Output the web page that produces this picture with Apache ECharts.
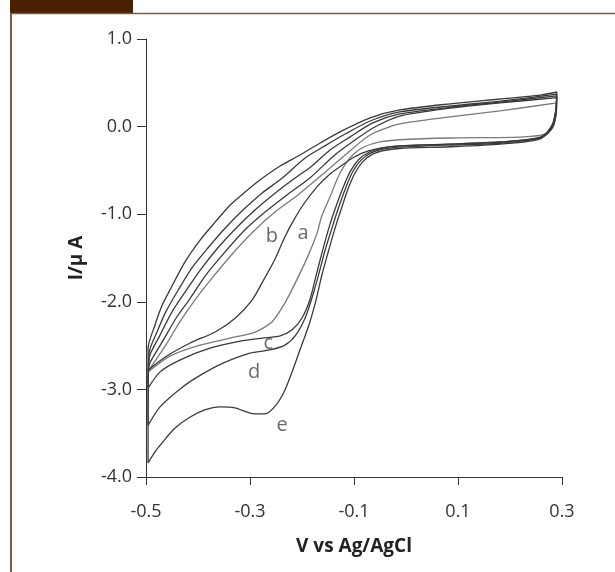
<!DOCTYPE html>
<html>
<head>
<meta charset="utf-8">
<script src="https://cdn.jsdelivr.net/npm/echarts@6/dist/echarts.min.js"></script>
<style>
html,body{margin:0;padding:0;background:#fff;}
#chart{width:615px;height:572px;}
</style>
</head>
<body>
<div id="chart"></div>
<script>
// ---- data (potential in V, current in µA) ----
const xTicks = [-0.5, -0.3, -0.1, 0.1, 0.3];

// each curve: cathodic (forward) sweep from +0.29 V to -0.5 V, then anodic (return) sweep back
const aX = [0.290,0.289,0.283,0.265,0.219,0.085,-0.012,-0.050,-0.080,-0.100,-0.117,-0.131,-0.146,-0.162,-0.171,-0.188,-0.210,-0.233,-0.258,-0.290,-0.338,-0.396,-0.454,-0.496,
            -0.492,-0.462,-0.435,-0.406,-0.373,-0.335,-0.294,-0.252,-0.208,-0.162,-0.117,-0.069,-0.012,0.085,0.181,0.290];
const aY = [0.27,0.15,0.00,-0.09,-0.12,-0.13,-0.15,-0.175,-0.23,-0.31,-0.43,-0.58,-0.80,-1.02,-1.215,-1.47,-1.75,-2.015,-2.23,-2.345,-2.415,-2.495,-2.62,-2.80,
            -2.76,-2.495,-2.23,-1.98,-1.73,-1.46,-1.2,-0.975,-0.78,-0.553,-0.324,-0.096,0.03,0.11,0.18,0.27];

const bX = [0.290,0.288,0.280,0.260,0.181,0.085,-0.012,-0.050,-0.083,-0.106,-0.125,-0.146,-0.170,-0.198,-0.218,-0.233,-0.253,-0.276,-0.296,-0.328,-0.367,-0.415,-0.463,-0.496,
            -0.492,-0.467,-0.442,-0.415,-0.385,-0.348,-0.310,-0.271,-0.229,-0.185,-0.137,-0.098,-0.060,-0.012,0.085,0.181,0.290];
const bY = [0.33,0.12,-0.03,-0.13,-0.175,-0.20,-0.22,-0.245,-0.30,-0.37,-0.45,-0.54,-0.68,-0.895,-1.09,-1.26,-1.525,-1.775,-1.98,-2.185,-2.345,-2.47,-2.63,-2.78,
            -2.69,-2.44,-2.185,-1.96,-1.695,-1.43,-1.18,-0.975,-0.78,-0.587,-0.324,-0.153,-0.005,0.12,0.21,0.27,0.33];

const cX = [0.290,0.288,0.281,0.258,0.181,0.085,-0.012,-0.045,-0.070,-0.090,-0.106,-0.120,-0.134,-0.148,-0.162,-0.175,-0.185,-0.200,-0.219,-0.242,-0.277,-0.319,-0.377,-0.435,-0.473,-0.496,
            -0.494,-0.473,-0.450,-0.425,-0.396,-0.362,-0.327,-0.290,-0.252,-0.208,-0.185,-0.146,-0.108,-0.065,-0.012,0.085,0.181,0.290];
const cY = [0.35,0.17,0.00,-0.12,-0.176,-0.20,-0.22,-0.245,-0.29,-0.37,-0.50,-0.68,-0.90,-1.15,-1.45,-1.75,-1.98,-2.185,-2.32,-2.39,-2.415,-2.45,-2.53,-2.665,-2.80,-2.985,
            -2.64,-2.38,-2.115,-1.89,-1.64,-1.386,-1.16,-0.95,-0.76,-0.564,-0.47,-0.267,-0.12,0.04,0.144,0.22,0.28,0.35];

const dX = [0.290,0.288,0.281,0.258,0.181,0.085,-0.012,-0.042,-0.067,-0.086,-0.102,-0.116,-0.130,-0.143,-0.156,-0.168,-0.181,-0.194,-0.212,-0.233,-0.262,-0.300,-0.352,-0.396,-0.429,-0.473,-0.496,
            -0.494,-0.477,-0.462,-0.438,-0.412,-0.381,-0.348,-0.313,-0.277,-0.238,-0.194,-0.156,-0.117,-0.069,-0.012,0.085,0.181,0.290];
const dY = [0.37,0.17,0.00,-0.13,-0.19,-0.21,-0.235,-0.255,-0.30,-0.38,-0.51,-0.70,-0.93,-1.17,-1.42,-1.69,-1.96,-2.185,-2.38,-2.495,-2.55,-2.585,-2.70,-2.84,-2.97,-3.20,-3.41,
            -2.585,-2.32,-2.115,-1.865,-1.615,-1.386,-1.16,-0.95,-0.76,-0.587,-0.358,-0.22,-0.085,0.064,0.167,0.235,0.29,0.37];

const eX = [0.290,0.288,0.281,0.258,0.181,0.085,-0.012,-0.040,-0.064,-0.083,-0.098,-0.112,-0.125,-0.138,-0.150,-0.162,-0.173,-0.187,-0.204,-0.219,-0.233,-0.250,-0.271,-0.300,-0.329,-0.358,-0.387,-0.415,-0.444,-0.460,-0.483,-0.496,
            -0.496,-0.483,-0.469,-0.454,-0.425,-0.396,-0.367,-0.338,-0.310,-0.281,-0.242,-0.204,-0.165,-0.127,-0.069,-0.012,0.085,0.181,0.258,0.290];
const eY = [0.395,0.19,0.02,-0.14,-0.20,-0.23,-0.25,-0.27,-0.315,-0.40,-0.53,-0.72,-0.95,-1.19,-1.44,-1.70,-1.98,-2.27,-2.55,-2.80,-3.01,-3.18,-3.28,-3.27,-3.21,-3.20,-3.235,-3.315,-3.44,-3.545,-3.715,-3.84,
            -2.53,-2.27,-2.04,-1.865,-1.545,-1.295,-1.09,-0.895,-0.75,-0.61,-0.45,-0.324,-0.187,-0.06,0.10,0.19,0.26,0.315,0.36,0.395];

const labelText = ['a', 'b', 'c', 'd', 'e'];
const labelX = [-0.198, -0.258, -0.265, -0.292, -0.238];
const labelY = [-1.215, -1.25, -2.47, -2.81, -3.41];

// ---- chart ----
const curves = [
  {name: 'a', x: aX, y: aY, color: '#7a7a7a'},
  {name: 'b', x: bX, y: bY, color: '#3a3a3a'},
  {name: 'c', x: cX, y: cY, color: '#3a3a3a'},
  {name: 'd', x: dX, y: dY, color: '#3a3a3a'},
  {name: 'e', x: eX, y: eY, color: '#3a3a3a'}
];
const font = 'Open Sans';
const chart = echarts.init(document.getElementById('chart'), null, {renderer: 'canvas'});
const series = curves.map(c => ({
  name: c.name,
  type: 'line',
  data: c.x.map((v, i) => [v, c.y[i]]),
  showSymbol: false,
  smooth: 0.25,
  lineStyle: {color: c.color, width: 1.3},
  silent: true
}));
series.push({
  type: 'scatter',
  data: labelX.map((v, i) => ({value: [v, labelY[i]], name: labelText[i]})),
  symbolSize: 0,
  silent: true,
  label: {
    show: true, position: 'inside', formatter: p => p.name,
    fontFamily: font, fontSize: 20, color: '#444'
  }
});
chart.setOption({
  animation: false,
  backgroundColor: '#fff',
  textStyle: {fontFamily: font, fontSize: 18},
  grid: {left: 146, right: 53, top: 39, bottom: 95, containLabel: false},
  xAxis: {
    type: 'value', min: -0.5, max: 0.3,
    name: 'V vs Ag/AgCl', nameLocation: 'middle', nameGap: 60,
    nameTextStyle: {fontFamily: font, fontSize: 19, fontWeight: 'bold', color: '#222'},
    axisLine: {onZero: false, lineStyle: {color: '#333', width: 1}},
    axisTick: {customValues: xTicks, length: 8, lineStyle: {color: '#333'}},
    axisLabel: {customValues: xTicks, margin: 26, fontFamily: font, fontSize: 18, color: '#333',
                formatter: v => v.toFixed(1)},
    splitLine: {show: false}
  },
  yAxis: {
    type: 'value', min: -4, max: 1, interval: 1,
    name: 'I/μ A', nameLocation: 'middle', nameGap: 60, nameRotate: 90,
    nameTextStyle: {fontFamily: font, fontSize: 19, fontWeight: 'bold', color: '#222'},
    axisLine: {show: true, onZero: false, lineStyle: {color: '#333', width: 1}},
    axisTick: {show: true, length: 9, lineStyle: {color: '#333'}},
    axisLabel: {margin: 14, fontFamily: font, fontSize: 18, color: '#333',
                formatter: v => v.toFixed(1)},
    splitLine: {show: false}
  },
  graphic: [
    {type: 'rect', shape: {x: 10, y: 0, width: 123, height: 13}, style: {fill: '#4a2000'}, silent: true},
    {type: 'line', shape: {x1: 10, y1: 13.5, x2: 615, y2: 13.5}, style: {stroke: '#7d5a42', lineWidth: 1.5}, silent: true},
    {type: 'line', shape: {x1: 11, y1: 13, x2: 11, y2: 572}, style: {stroke: '#7d5a42', lineWidth: 2}, silent: true}
  ],
  series: series
});
</script>
</body>
</html>
